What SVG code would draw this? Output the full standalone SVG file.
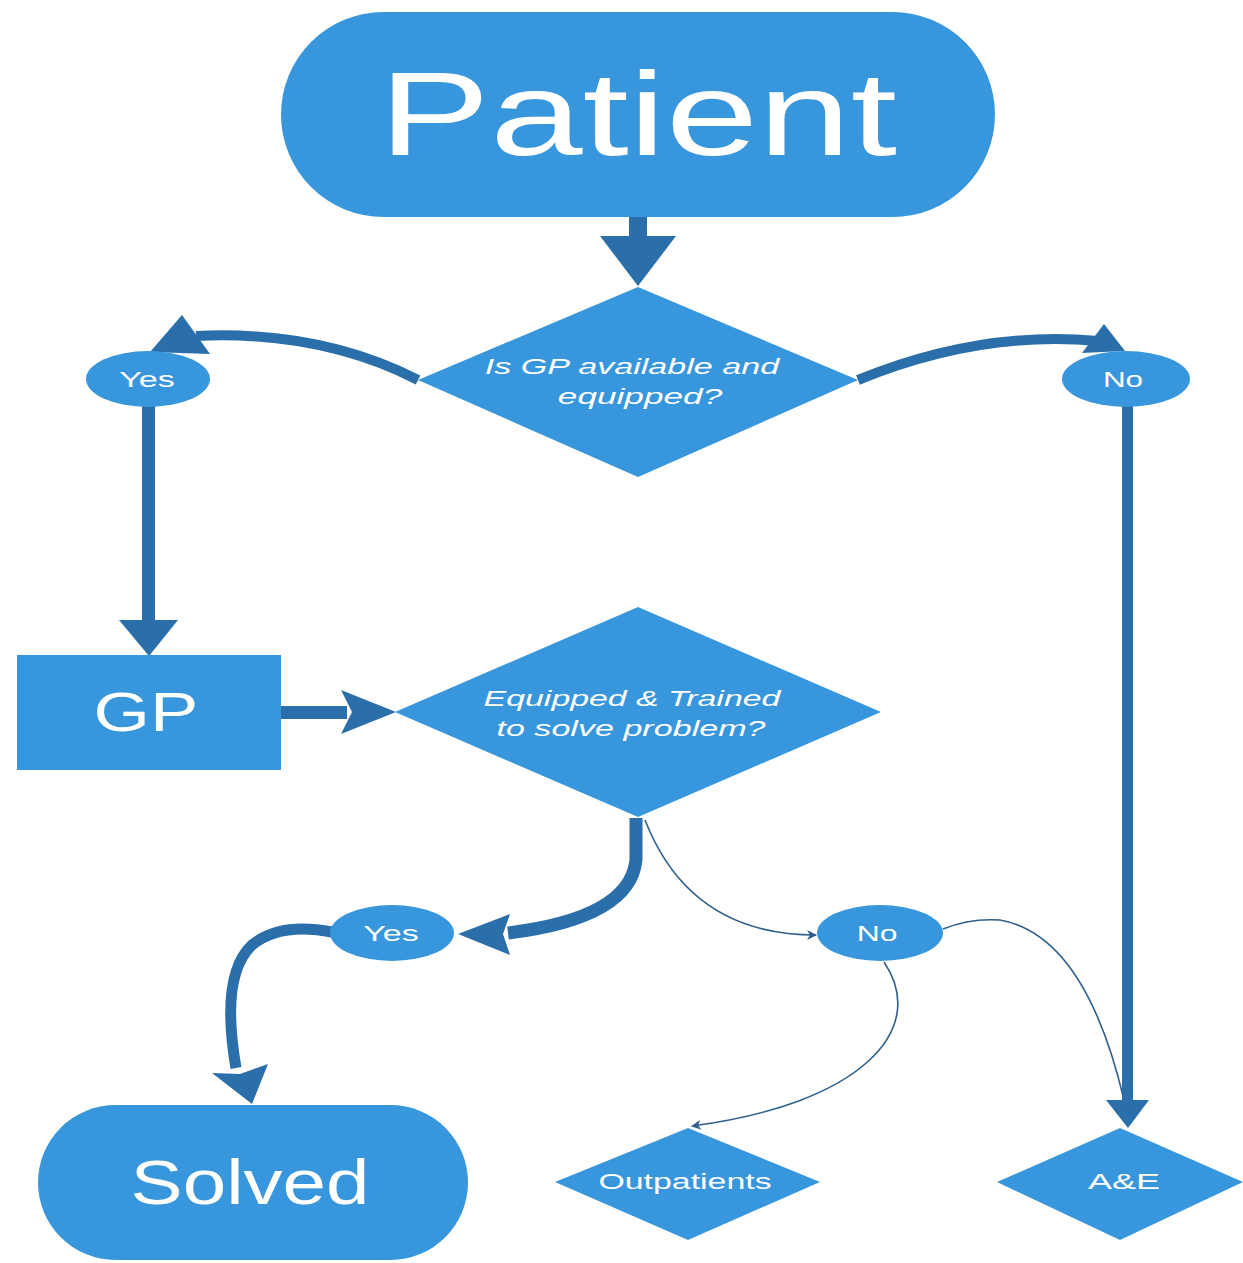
<svg xmlns="http://www.w3.org/2000/svg" width="1243" height="1263" viewBox="0 0 1243 1263">
  <defs>
    <style>
      .node { fill: #3896dc; }
      .lbl { fill: #ffffff; font-family: "Liberation Sans", Arial, sans-serif; text-anchor: middle; }
      .q { font-style: italic; font-size: 22px; }
      .small { font-size: 22px; }
      .thick { fill: none; stroke: #2a6eaa; }
      .thin { fill: none; stroke: #2f5f8c; stroke-width: 1.6; }
      .head { fill: #2a6eaa; }
    </style>
    <marker id="thinHead" viewBox="0 0 10 10" refX="9" refY="5" markerWidth="10" markerHeight="10" markerUnits="userSpaceOnUse" orient="auto">
      <path d="M0,0 L10,5 L0,10 L3,5 Z" fill="#2f5f8c"/>
    </marker>
  </defs>

  <rect width="1243" height="1263" fill="#ffffff"/>

  <!-- connectors -->
  <g id="connectors">
    <!-- Patient -> question 1 -->
    <rect x="629" y="216" width="18" height="24" class="head"/>
    <polygon points="600,236 676,236 638,286" class="head"/>

    <!-- question 1 -> Yes -->
    <path d="M418,380 Q320,330 196,336" class="thick" stroke-width="10"/>
    <polygon points="182,315 210,354 150,352" class="head"/>

    <!-- question 1 -> No -->
    <path d="M858,380 Q980,330 1098,341" class="thick" stroke-width="10"/>
    <polygon points="1104,324 1125,351 1082,353" class="head"/>

    <!-- Yes -> GP -->
    <rect x="142" y="406" width="13" height="218" class="head"/>
    <polygon points="119,620 178,620 149,656" class="head"/>

    <!-- GP -> question 2 -->
    <rect x="281" y="706" width="66" height="13" class="head"/>
    <polygon points="341,690 396,712 341,734 352,712" class="head"/>

    <!-- question 2 -> Yes -->
    <path d="M636,818 L636,860 Q630,918 508,933" class="thick" stroke-width="13"/>
    <polygon points="458,934 510,914 503,934 510,955" class="head"/>

    <!-- Yes -> Solved -->
    <path d="M332,932 Q280,922 252,945 Q220,975 236,1068" class="thick" stroke-width="11"/>
    <polygon points="212,1073 252,1104 268,1064 240,1074" class="head"/>

    <!-- question 2 -> No (thin) -->
    <path d="M645,820 Q690,935 816,935" class="thin" marker-end="url(#thinHead)"/>

    <!-- No -> Outpatients (thin) -->
    <path d="M884,962 C930,1030 860,1104 692,1126" class="thin" marker-end="url(#thinHead)"/>

    <!-- No -> A&E (thin) -->
    <path d="M943,929 Q970,918 1000,920 Q1085,935 1124,1100" class="thin"/>

    <!-- No (upper) -> A&E -->
    <rect x="1122" y="406" width="11" height="700" class="head"/>
    <polygon points="1106,1100 1149,1100 1128,1128" class="head"/>
  </g>

  <!-- nodes -->
  <g id="patient">
    <rect x="281" y="12" width="714" height="205" rx="102.5" class="node"/>
    <text transform="translate(638,155) scale(1.41,1)" class="lbl" font-size="118">Patient</text>
  </g>

  <g id="q-gp-available">
    <polygon points="638,287 858,380 638,477 418,380" class="node"/>
    <text transform="translate(632,374) scale(1.55,1)" class="lbl q">Is GP available and</text>
    <text transform="translate(640,404) scale(1.6,1)" class="lbl q">equipped?</text>
  </g>

  <g id="yes-1">
    <ellipse cx="148" cy="379" rx="62" ry="28" class="node"/>
    <text transform="translate(147,387) scale(1.55,1)" class="lbl small">Yes</text>
  </g>

  <g id="no-1">
    <ellipse cx="1126" cy="379" rx="64" ry="28" class="node"/>
    <text transform="translate(1123,387) scale(1.43,1)" class="lbl small">No</text>
  </g>

  <g id="gp">
    <rect x="17" y="655" width="264" height="115" class="node"/>
    <text transform="translate(146,731) scale(1.32,1)" class="lbl" font-size="55">GP</text>
  </g>

  <g id="q-equipped-trained">
    <polygon points="638,607 881,712 638,817 395,712" class="node"/>
    <text transform="translate(632,706) scale(1.54,1)" class="lbl q">Equipped &amp; Trained</text>
    <text transform="translate(631,736) scale(1.55,1)" class="lbl q">to solve problem?</text>
  </g>

  <g id="yes-2">
    <ellipse cx="392" cy="933" rx="62" ry="28" class="node"/>
    <text transform="translate(391,941) scale(1.55,1)" class="lbl small">Yes</text>
  </g>

  <g id="no-2">
    <ellipse cx="880" cy="933" rx="63" ry="28" class="node"/>
    <text transform="translate(877,941) scale(1.45,1)" class="lbl small">No</text>
  </g>

  <g id="solved">
    <rect x="38" y="1105" width="430" height="155" rx="77.5" class="node"/>
    <text transform="translate(250,1204) scale(1.24,1)" class="lbl" font-size="63">Solved</text>
  </g>

  <g id="outpatients">
    <polygon points="688,1128 820,1182 688,1240 555,1182" class="node"/>
    <text transform="translate(685,1189) scale(1.54,1)" class="lbl small">Outpatients</text>
  </g>

  <g id="ae">
    <polygon points="1120,1128 1243,1182 1120,1240 997,1182" class="node"/>
    <text transform="translate(1124,1189) scale(1.64,1)" class="lbl small">A&amp;E</text>
  </g>
</svg>
